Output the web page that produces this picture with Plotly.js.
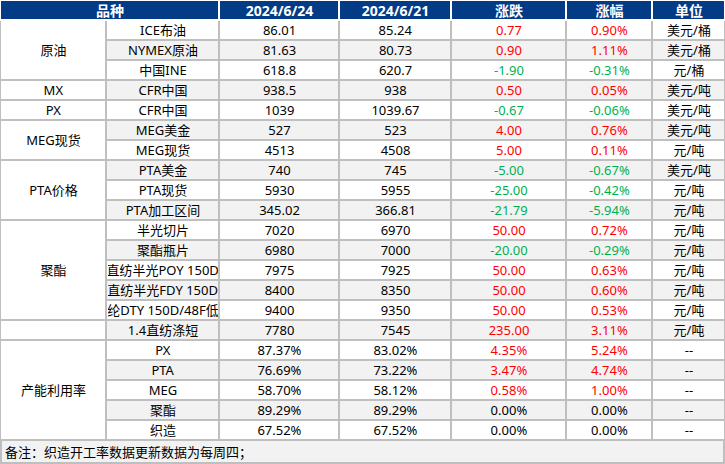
<!DOCTYPE html>
<html><head><meta charset="utf-8">
<script src="https://cdn.plot.ly/plotly-3.0.1.min.js"></script>
<style>html,body{margin:0;padding:0;background:#fff}#chart{width:725px;height:464px}</style>
</head><body><div id="chart"></div>
<script>
// ---- data ----
const headers = ['品种', '2024/6/24', '2024/6/21', '涨跌', '涨幅', '单位'];
const groups = ['原油', 'MX', 'PX', 'MEG现货', 'PTA价格', '聚酯', '', '产能利用率'];
const groupSizes = [3, 1, 1, 2, 3, 5, 1, 5];
const items = ['ICE布油', 'NYMEX原油', '中国INE', 'CFR中国', 'CFR中国', 'MEG美金', 'MEG现货',
  'PTA美金', 'PTA现货', 'PTA加工区间', '半光切片', '聚酯瓶片', '涤纶直纺半光POY 150D/48F',
  '涤纶直纺半光FDY 150D/96F', '涤纶DTY 150D/48F低弹', '1.4直纺涤短', 'PX', 'PTA', 'MEG', '聚酯', '织造'];
const valJun24 = ['86.01', '81.63', '618.8', '938.5', '1039', '527', '4513', '740', '5930', '345.02',
  '7020', '6980', '7975', '8400', '9400', '7780', '87.37%', '76.69%', '58.70%', '89.29%', '67.52%'];
const valJun21 = ['85.24', '80.73', '620.7', '938', '1039.67', '523', '4508', '745', '5955', '366.81',
  '6970', '7000', '7925', '8350', '9350', '7545', '83.02%', '73.22%', '58.12%', '89.29%', '67.52%'];
const changes = ['0.77', '0.90', '-1.90', '0.50', '-0.67', '4.00', '5.00', '-5.00', '-25.00', '-21.79',
  '50.00', '-20.00', '50.00', '50.00', '50.00', '235.00', '4.35%', '3.47%', '0.58%', '0.00%', '0.00%'];
const changePct = ['0.90%', '1.11%', '-0.31%', '0.05%', '-0.06%', '0.76%', '0.11%', '-0.67%', '-0.42%', '-5.94%',
  '0.72%', '-0.29%', '0.63%', '0.60%', '0.53%', '3.11%', '5.24%', '4.74%', '1.00%', '0.00%', '0.00%'];
const units = ['美元/桶', '美元/桶', '元/桶', '美元/吨', '美元/吨', '美元/吨', '元/吨', '美元/吨', '元/吨', '元/吨',
  '元/吨', '元/吨', '元/吨', '元/吨', '元/吨', '元/吨', '--', '--', '--', '--', '--'];
const note = '备注：织造开工率数据更新数据为每周四；';

// ---- layout constants ----
const colW = [106, 113, 120, 112, 115, 86, 73];
const headerH = 20, rowH = 20, noteH = 23;
const edges = [0];
colW.forEach(w => edges.push(edges[edges.length - 1] + w));
const totalW = edges[edges.length - 1];
const nRows = items.length;
const noteTop = headerH + nRows * rowH;
const totalH = 464;

const HEAD_BG = '#033B87', GRID = '#BFBFBF', ALT = '#F2F2F2';
const RED = '#FF0000', GREEN = '#00B050', BLACK = '#000000';
const FONT = 'Segoe UI, Noto Sans, Noto Sans CJK SC, sans-serif';

const shapes = [], annotations = [];
function cell(x0, x1, y0, y1, fill, line) {
  shapes.push({type: 'rect', xref: 'x', yref: 'y', x0, x1, y0, y1,
    fillcolor: fill, line: {color: line, width: 2}, layer: 'above'});
}
function label(x0, x1, y0, y1, text, color, size, opts) {
  annotations.push(Object.assign({xref: 'x', yref: 'y', x: (x0 + x1) / 2, y: (y0 + y1) / 2,
    xanchor: 'center', yanchor: 'middle', showarrow: false, text,
    width: x1 - x0 - 3, align: 'center', borderpad: 0,
    font: {family: FONT, size, color}}, opts || {}));
}
function signColor(s) {
  const v = parseFloat(s);
  return v > 0 ? RED : (v < 0 ? GREEN : BLACK);
}

// data rows
for (let i = 0; i < nRows; i++) {
  const y0 = headerH + i * rowH, y1 = y0 + rowH;
  const fill = i % 2 === 0 ? '#FFFFFF' : ALT;
  const vals = [items[i], valJun24[i], valJun21[i], changes[i], changePct[i], units[i]];
  const colors = [BLACK, BLACK, BLACK, signColor(changes[i]), signColor(changePct[i]), BLACK];
  for (let c = 1; c < colW.length; c++) {
    cell(edges[c], edges[c + 1], y0, y1, fill, GRID);
    label(edges[c], edges[c + 1], y0, y1, vals[c - 1], colors[c - 1], 13);
  }
}
// group (merged) cells
let start = 0;
groups.forEach((g, k) => {
  const y0 = headerH + start * rowH, y1 = y0 + groupSizes[k] * rowH;
  cell(edges[0], edges[1], y0, y1, '#FFFFFF', GRID);
  if (g) label(edges[0], edges[1], y0, y1, g, BLACK, 13);
  start += groupSizes[k];
});
// note row
cell(edges[0] + 1, totalW - 1, noteTop, noteTop + noteH, ALT, GRID);
annotations.push({xref: 'x', yref: 'y', x: edges[0] + 3, y: noteTop + noteH / 2,
  xanchor: 'left', yanchor: 'middle', showarrow: false, text: note,
  font: {family: FONT, size: 13, color: BLACK}});
// header
const headSpans = [[0, 2], [2, 3], [3, 4], [4, 5], [5, 6], [6, 7]];
headSpans.forEach((sp, k) => {
  cell(edges[sp[0]], edges[sp[1]], 0, headerH, HEAD_BG, '#FFFFFF');
  label(edges[sp[0]], edges[sp[1]], 0, headerH, '<b>' + headers[k] + '</b>', '#FFFFFF', 14);
});

const trace = {x: [0, totalW], y: [0, totalH], type: 'scatter', mode: 'markers',
  marker: {opacity: 0}, hoverinfo: 'skip', showlegend: false};

Plotly.newPlot('chart', [trace], {
  width: 725, height: 464,
  margin: {l: 0, r: 0, t: 0, b: 0, pad: 0},
  paper_bgcolor: '#FFFFFF', plot_bgcolor: '#FFFFFF',
  xaxis: {range: [0, totalW], visible: false, fixedrange: true},
  yaxis: {range: [totalH, 0], visible: false, fixedrange: true},
  shapes, annotations, showlegend: false
}, {displayModeBar: false, staticPlot: true});
</script></body></html>
